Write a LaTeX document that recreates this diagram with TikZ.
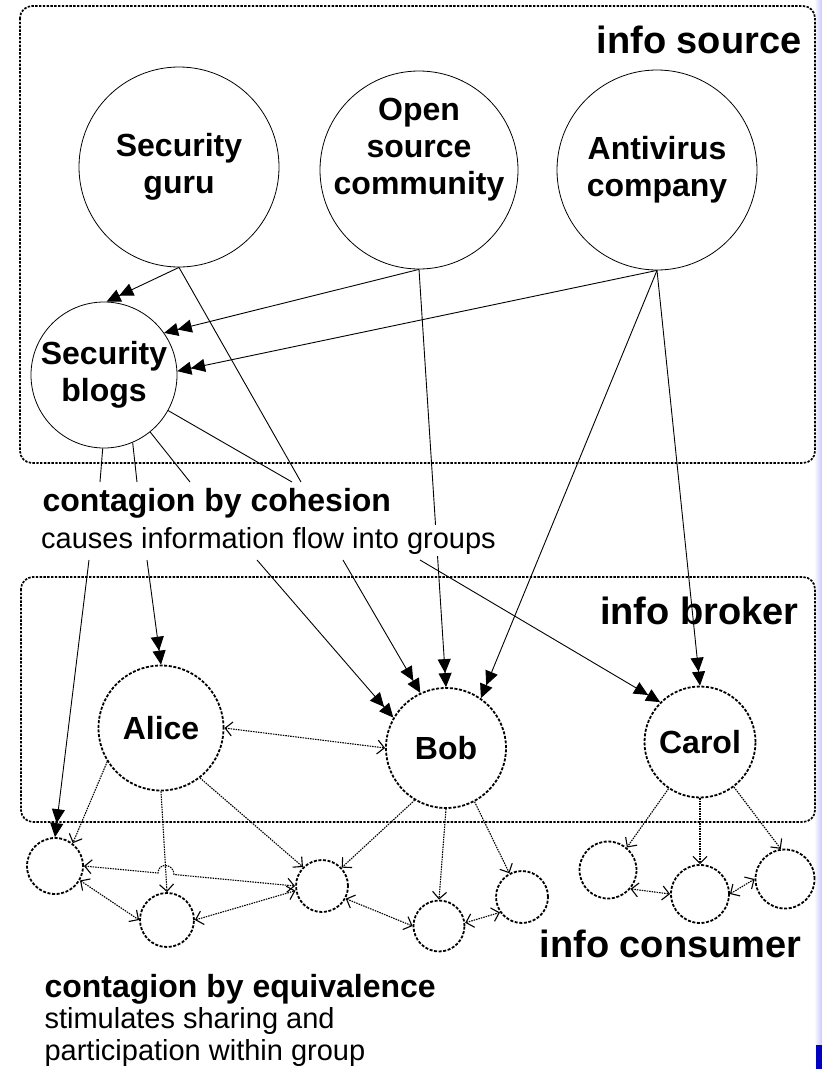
\documentclass[tikz,border=0pt]{standalone}
\usepackage{fontspec}
\setmainfont{Liberation Sans}
\usetikzlibrary{arrows.meta}

\begin{document}
\begin{tikzpicture}[x=1pt,y=-1pt,
  src/.style={circle,draw,line width=0.8pt,inner sep=0pt,align=center,
    font=\fontsize{32}{37}\selectfont\bfseries},
  broker/.style={circle,draw,line width=1.8pt,dash pattern=on 3pt off 1.6pt,
    inner sep=0pt,font=\fontsize{32}{37}\selectfont\bfseries},
  consumer/.style={circle,draw,line width=1.8pt,dash pattern=on 3pt off 1.6pt,inner sep=0pt},
  groupbox/.style={draw,line width=1.7pt,dash pattern=on 2.4pt off 1.4pt,rounded corners=12pt},
  flow/.style={line width=0.9pt,-{Triangle[length=14pt,width=13pt]Triangle[length=14pt,width=13pt]}},
  link/.style={line width=0.9pt},
  share/.style={line width=1.1pt,dash pattern=on 1.5pt off 1pt,->,
    >={Straight Barb[length=7pt,width=14pt]}},
  mutual/.style={share,<->},
  heading/.style={anchor=base east,font=\fontsize{38}{44}\selectfont\bfseries},
  grouptitle/.style={anchor=base west,font=\fontsize{32}{37}\selectfont\bfseries},
  groupnote/.style={anchor=base west,font=\fontsize{29}{32}\selectfont}]
  \useasboundingbox (0,0) rectangle (822,1069);
  % slide edge
  \shade[left color=white,right color=blue!22] (814,0) rectangle (822,1069);
  \fill[blue!75!black] (816,1045) rectangle (822,1069);

  % the two groups
  \draw[groupbox] (20,6) rectangle (815,463);
  \draw[groupbox] (21,577) rectangle (815,822);
  \node[heading] (srchead) at (805,53) {info source};
  \node[heading] (brkhead) at (802,624) {info broker};
  \node[heading] (conhead) at (805,957) {info consumer};

  % sources
  \node[src,minimum size=200pt] (guru) at (179,167) {Security\\guru};
  \node[src,minimum size=198pt,
    label={[align=center,font=\fontsize{32}{37}\selectfont\bfseries,yshift=20pt]center:{Open\\source\\community}}]
    (open) at (419,170) {};
  \node[src,minimum size=200pt] (av) at (657,170) {Antivirus\\company};
  \node[src,minimum size=146pt] (blogs) at (104,375) {Security\\blogs};

  % brokers
  \node[broker,minimum size=125pt] (alice) at (161,728) {Alice};
  \node[broker,minimum size=120pt] (bob) at (446,748) {Bob};
  \node[broker,minimum size=111pt] (carol) at (700,742) {Carol};

  % consumers
  \foreach \n/\x/\y/\s in {c1/55/866/56, c2/167/920/54, c3/322/886/52, c4/439/926/51,
      c5/522/897/52, c6/608/870/57, c7/700/894/58, c8/785/879/59}
    \node[consumer,minimum size=\s pt] (\n) at (\x,\y) {};

  % ends of the cohesion lines
  \coordinate (cin1) at (100,482);
  \coordinate (cin2) at (137,482);
  \coordinate (cin3) at (190,482);
  \coordinate (cin4) at (292,482);
  \coordinate (cin5) at (301,482);
  \coordinate (cout1) at (89,560);
  \coordinate (cout2) at (147,560);
  \coordinate (cout3) at (257,560);
  \coordinate (cout4) at (343,560);
  \coordinate (cout5) at (420,560);

  % into the blogs
  \draw[flow] (guru.south) -- (blogs.88);
  \draw[flow] (open.south) -- (blogs.35);
  \draw[flow] (av.south) -- (blogs.3);
  % sources straight to brokers
  \draw[flow] (open.south) -- (bob.north);
  \draw[flow] (av.south) -- (bob.55);
  \draw[flow] (av.south) -- (carol.north);
  % contagion by cohesion
  \draw[link] (guru.south) -- (cin5);
  \foreach \a/\c in {-91/cin1,-67/cin2,-51/cin3,-29/cin4}
    \draw[link] (blogs.\a) -- (\c);
  \foreach \c/\t in {cout1/c1.north,cout2/alice.north,cout3/bob.150,cout4/bob.115,cout5/carol.135}
    \draw[flow] (\c) -- (\t);

  % brokers to consumers
  \foreach \a/\b in {alice.-148/c1.52,alice.south/c2.north,alice.-52/c3.135,
      bob.-121/c3.43,bob.south/c4.north,bob.-62/c5.118,
      carol.-124/c6.50,carol.south/c7.north,carol.-53/c8.98}
    \draw[share] (\a) -- (\b);
  % sharing within groups
  \draw[mutual] (alice.east) -- (bob.west);
  \coordinate (hopa) at (158,873);
  \coordinate (hopb) at (174,874.5);
  \draw[mutual] (c1.east) -- (hopa) .. controls +(0,-11) and +(0,-11) .. (hopb) -- (c3.west);
  \foreach \a/\b in {c1.-30/c2.west,c2.east/c3.190,c3.-28/c4.west,c4.7/c5.215,
      c6.-40/c7.west,c7.east/c8.west}
    \draw[mutual] (\a) -- (\b);

  % texts
  \node[grouptitle] (cohtitle) at (39,511) {contagion by cohesion};
  \node[groupnote,fill=white,inner sep=2pt] (cohnote) at (39,548) {causes information flow into groups};
  \node[grouptitle] (equtitle) at (41,997) {contagion by equivalence};
  \node[groupnote] (equnote) at (41,1028) {stimulates sharing and};
  \node[groupnote] (equnote2) at (41,1060) {participation within group};
\end{tikzpicture}
\end{document}
